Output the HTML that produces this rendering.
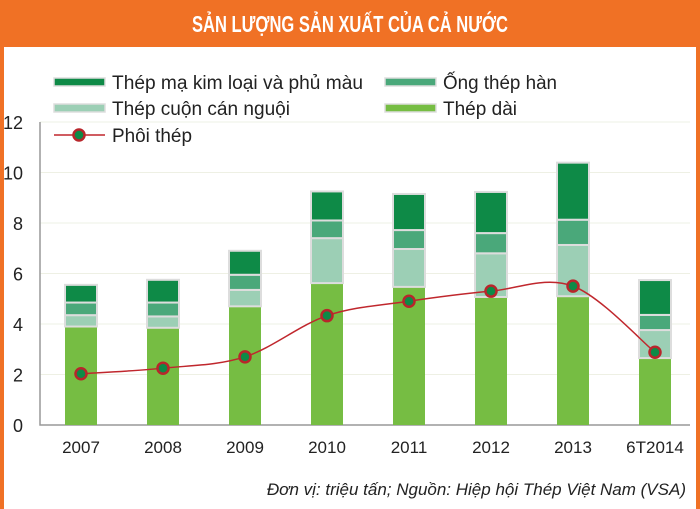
<!DOCTYPE html>
<html><head><meta charset="utf-8"><style>
body{margin:0;width:700px;height:509px;overflow:hidden;background:#fff;font-family:"Liberation Sans",sans-serif}
#frame{position:absolute;left:0;top:0;width:700px;height:509px;box-sizing:border-box;border-left:4px solid #f07125;border-right:4px solid #f07125}
#hdr{position:absolute;left:0;top:0;width:700px;height:47px;background:#f07125}
#foot{position:absolute;right:14px;top:480px;font-style:italic;font-size:17px;color:#222}
</style></head><body>
<div id="frame"></div>
<div id="hdr"></div>
<svg id="chart" width="700" height="509" style="position:absolute;left:0;top:0">
<text x="192" y="32" textLength="316" lengthAdjust="spacingAndGlyphs" font-size="23" font-weight="bold" fill="#fff">SẢN LƯỢNG SẢN XUẤT CỦA CẢ NƯỚC</text>
</svg>
<div id="foot">Đơn vị: triệu tấn; Nguồn: Hiệp hội Thép Việt Nam (VSA)</div>
<script>
const categories=["2007","2008","2009","2010","2011","2012","2013","6T2014"];
const thepDai=[3.9,3.85,4.7,5.62,5.47,5.07,5.1,2.65];
const thepCuon=[0.45,0.45,0.65,1.78,1.5,1.73,2.03,1.11];
const ongThep=[0.5,0.55,0.6,0.7,0.75,0.8,1.0,0.6];
const thepMa=[0.7,0.9,0.95,1.15,1.43,1.63,2.26,1.38];
const phoiThep=[2.03,2.25,2.7,4.33,4.9,5.3,5.5,2.88];
const yTicks=[0,2,4,6,8,10,12];
const NS="http://www.w3.org/2000/svg";
const svg=document.getElementById('chart');
function mk(t,a,p){const e=document.createElementNS(NS,t);for(const k in a)e.setAttribute(k,a[k]);(p||svg).appendChild(e);return e;}
const y=v=>425-v*25.25;
const x=i=>81+i*82;
yTicks.forEach(t=>{
 if(t>0){const g=mk('line',{x1:40,x2:690,y1:y(t),y2:y(t),stroke:'#eef0e4','stroke-width':1});}
 const l=mk('text',{x:23,y:y(t)+7,'text-anchor':'end','font-size':18,fill:'#222'});l.textContent=t;
 
 
});
const ax=mk('path',{d:'M40,122V425H690',fill:'none',stroke:'#999','stroke-width':1.5});


const series=[[thepDai,'#76bd43','thep-dai'],[thepCuon,'#9ccfb5','thep-cuon'],[ongThep,'#4aa87a','ong-thep'],[thepMa,'#0e8a47','thep-ma']];
categories.forEach((c,i)=>{
 let base=0;
 series.forEach(([arr,col,nm])=>{
  const v=arr[i];
  const r=mk('rect',{x:x(i)-16,y:y(base+v),width:32,height:y(base)-y(base+v),fill:col,stroke:nm==='thep-dai'?'none':'#ddd','stroke-width':2});
  
  
  base+=v;
 });
 const t=mk('text',{x:x(i),y:453,'text-anchor':'middle','font-size':17,fill:'#222'});t.textContent=c;
 
 
});
const pts=phoiThep.map((v,i)=>[x(i),y(v)]);
let d='M'+pts[0][0]+','+pts[0][1];
for(let i=0;i<pts.length-1;i++){
 const p0=pts[Math.max(i-1,0)],p1=pts[i],p2=pts[i+1],p3=pts[Math.min(i+2,pts.length-1)];
 d+=` C${p1[0]+(p2[0]-p0[0])/6},${p1[1]+(p2[1]-p0[1])/6} ${p2[0]-(p3[0]-p1[0])/6},${p2[1]-(p3[1]-p1[1])/6} ${p2[0]},${p2[1]}`;
}
const ln=mk('path',{d:d,fill:'none',stroke:'#c0272d','stroke-width':1.5});


pts.forEach((p,i)=>{
 const c=mk('circle',{cx:p[0],cy:p[1],r:5.5,fill:'#0e8a47',stroke:'#b8262b','stroke-width':2.5});
 
 
});
const leg=[[54,82,'#0e8a47','Thép mạ kim loại và phủ màu',251],[385,82,'#4aa87a','Ống thép hàn',114],[54,108,'#9ccfb5','Thép cuộn cán nguội',178],[385,108,'#76bd43','Thép dài',74]];
leg.forEach(([lx,ly,col,txt,w])=>{
 const s=mk('rect',{x:lx,y:ly-4,width:51,height:8,fill:col,stroke:'#ddd','stroke-width':1.5});
 
 
 const t=mk('text',{x:lx+58,y:ly+7,'font-size':19,fill:'#222',textLength:w,lengthAdjust:'spacingAndGlyphs'});t.textContent=txt;
 
 
});
const ll=mk('line',{x1:54,x2:105,y1:135,y2:135,stroke:'#c0272d','stroke-width':1.5});


const lc=mk('circle',{cx:79,cy:135,r:5.5,fill:'#0e8a47',stroke:'#b8262b','stroke-width':2.5});


const lt=mk('text',{x:112,y:142,'font-size':19,fill:'#222',textLength:80,lengthAdjust:'spacingAndGlyphs'});lt.textContent='Phôi thép';


</script>
</body></html>
